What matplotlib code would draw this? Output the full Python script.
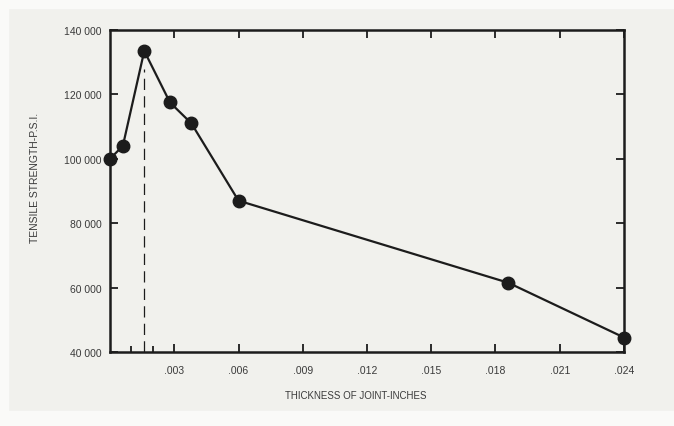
import matplotlib
matplotlib.use("Agg")
import matplotlib.pyplot as plt
import matplotlib.patches as patches
from matplotlib.ticker import FuncFormatter

# values
thickness = [0.0, 0.0006, 0.0016, 0.0028, 0.0038, 0.006, 0.0186, 0.024]
strength = [100000, 104000, 133500, 117500, 111000, 87000, 61500, 44500]
peak_x = 0.0016

x_ticks = [0.003, 0.006, 0.009, 0.012, 0.015, 0.018, 0.021, 0.024]
x_minor = [0.001, 0.002]
y_ticks = [40000, 60000, 80000, 100000, 120000, 140000]

plt.rcParams['font.family'] = ['Liberation Sans', 'DejaVu Sans']
ink = '#1c1c1c'
txt = '#3a3a3a'
paper = '#f1f1ed'

fig = plt.figure(figsize=(6.74, 4.27), dpi=100, facecolor=paper)
# white margins of the scan
fig.patches.append(patches.Rectangle((0, 0), 1, 0.035, transform=fig.transFigure, color='#fafaf8', zorder=-1))
fig.patches.append(patches.Rectangle((0, 0.98), 1, 0.02, transform=fig.transFigure, color='#fafaf8', zorder=-1))
fig.patches.append(patches.Rectangle((0, 0), 0.012, 1, transform=fig.transFigure, color='#fafaf8', zorder=-1))

ax = fig.add_axes([110/674, 1-353/427, 514/674, 322/427])
ax.set_facecolor(paper)

ax.plot([peak_x, peak_x], [40000, 128000], color=ink, lw=0.9,
        dashes=(9, 5), zorder=1)
ax.plot(thickness, strength, color=ink, lw=1.6, marker='o', markersize=9,
        clip_on=False, zorder=3)

ax.set_xlim(0, 0.024)
ax.set_ylim(40000, 140000)
ax.set_xticks(x_ticks)
ax.set_xticks(x_minor, minor=True)
ax.set_yticks(y_ticks)
ax.xaxis.set_major_formatter(FuncFormatter(lambda v, p: ('%.3f' % v)[1:]))
ax.yaxis.set_major_formatter(FuncFormatter(lambda v, p: '{:,}'.format(int(v)).replace(',', ' ')))

ax.tick_params(which='both', direction='in', top=True, right=True,
               colors=ink, labelcolor=txt, labelsize=7.5, width=1.3)
ax.tick_params(which='major', length=6, pad=9)
ax.tick_params(axis='x', which='minor', length=4, top=False)
ax.tick_params(axis='y', pad=6)
for s in ax.spines.values():
    s.set_linewidth(1.8)
    s.set_color(ink)

fig.text(356/674, 1-396/427, 'THICKNESS OF JOINT-INCHES', ha='center', va='center',
         fontsize=7, color=txt)
fig.text(35/674, 1-178/427, 'TENSILE STRENGTH-P.S.I.', ha='center', va='center',
         rotation=90, fontsize=7.5, color=txt)

fig.savefig('out.png', dpi=100, facecolor=paper)
